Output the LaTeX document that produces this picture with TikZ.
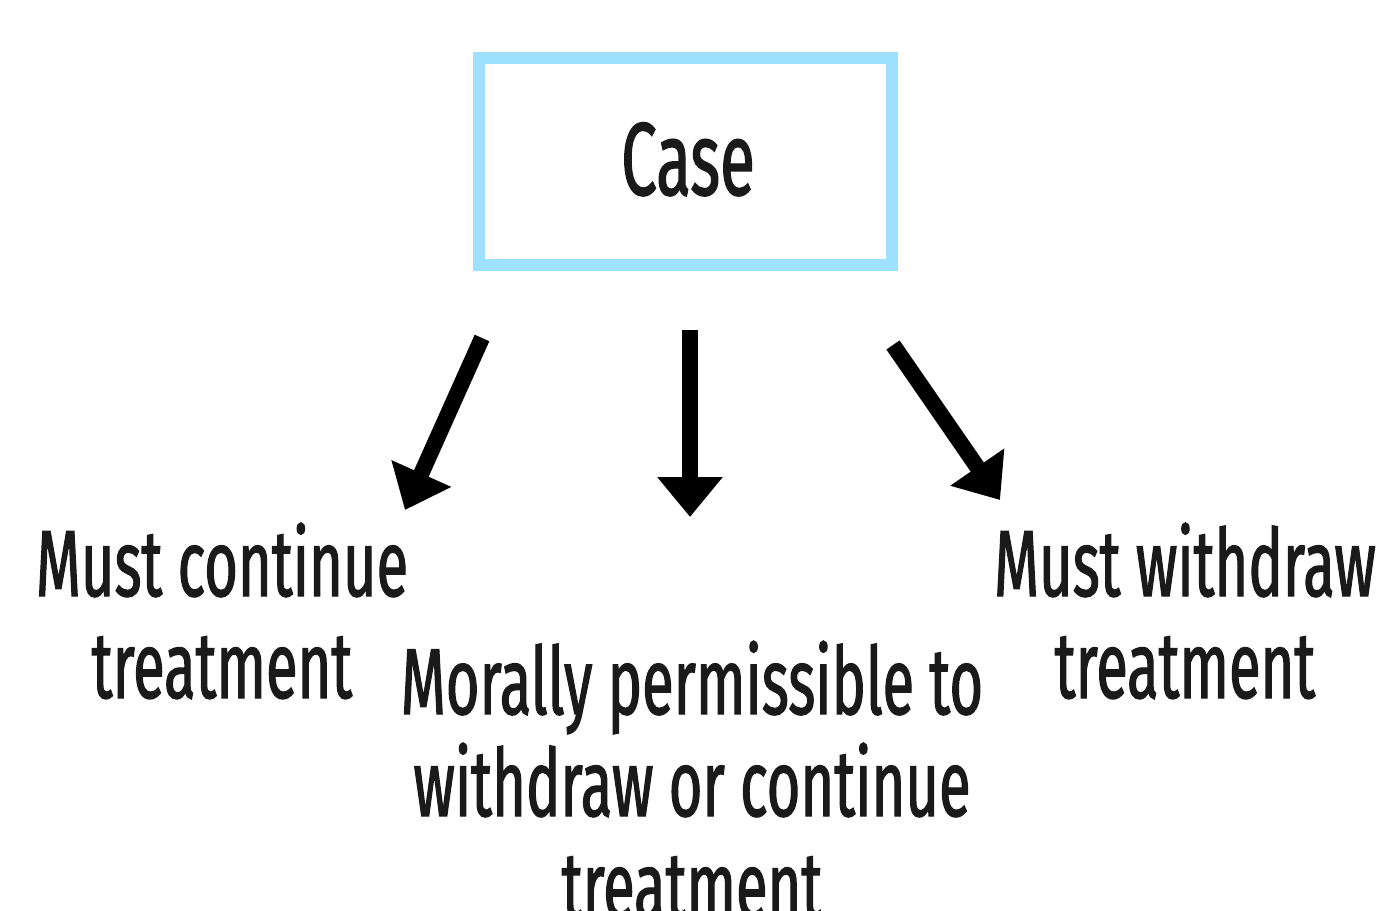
\documentclass[tikz,border=0pt]{standalone}
\usepackage{fontspec}
\setmainfont{Fira Sans}[FakeStretch=0.615, FakeBold=1.2]
\usetikzlibrary{arrows.meta,positioning}
\definecolor{caseblue}{HTML}{9EE0FF}
\definecolor{inkdark}{HTML}{1A1A1A}

\begin{document}
\begin{tikzpicture}[
        casebox/.style={draw=caseblue, line width=0.24cm, minimum width=8.26cm, minimum height=4.14cm, inner sep=0pt},
        outcome/.style={align=center, inner sep=0pt, anchor=base, text=inkdark, font=\fontsize{53.5}{58}\selectfont},
        bigarrow/.style={line width=0.32cm, -{Triangle[width=1.26cm, length=0.8cm]}},
    ]
        \useasboundingbox (0,0) rectangle (27.74,18.2);

        % --- the case ---
        \node[casebox] (case) at (13.71,14.97) {};
        \node[text=inkdark, font=\fontsize{59}{64}\selectfont, anchor=base] (casetext) at (13.76,14.3) {Case};

        % --- the three outcomes (anchored at their last baseline) ---
        \node[outcome] (mustcont) at (4.44,4.24) {Must continue\\treatment};
        \node[outcome] (permit) at (13.84,-0.16) {Morally permissible to\\withdraw or continue\\treatment};
        \node[outcome] (mustwd) at (23.7,4.24) {Must withdraw\\treatment};

        % arrow ends
        \coordinate (lstart) at (9.64,11.44);
        \coordinate (lend) at (8.10,8.00);
        \coordinate (mstart) at (13.80,11.60);
        \coordinate (mend) at (13.80,7.86);
        \coordinate (rstart) at (17.86,11.30);
        \coordinate (rend) at (20.00,8.20);

        \draw[bigarrow] (lstart) -- (lend);
        \draw[bigarrow] (mstart) -- (mend);
        \draw[bigarrow] (rstart) -- (rend);

\end{tikzpicture}
\end{document}
